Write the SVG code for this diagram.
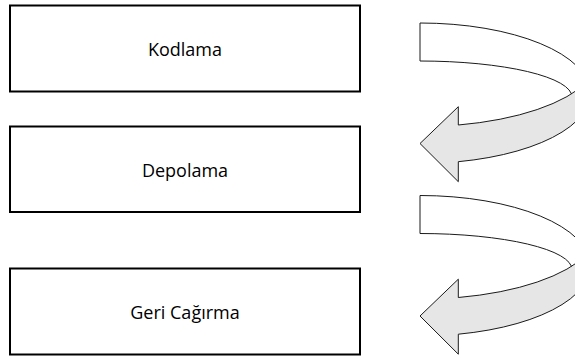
<svg xmlns="http://www.w3.org/2000/svg" width="575" height="358" viewBox="0 0 575 358">
<style>
.box{fill:#ffffff;stroke:#000000;stroke-width:2}
.lbl{font-family:"Open Sans","Liberation Sans",sans-serif;font-size:18px;fill:#000000;text-anchor:middle}
.back{fill:#ffffff;stroke:#1a1a1a;stroke-width:1}
.front{fill:#e6e6e6;stroke:#1a1a1a;stroke-width:1}
</style>
<rect x="0" y="0" width="575" height="358" fill="#ffffff"/>
<g id="node-kodlama">
<rect class="box" x="10" y="5.5" width="350" height="86"/>
<text class="lbl" x="185" y="56">Kodlama</text>
</g>
<g id="node-depolama">
<rect class="box" x="10" y="126.5" width="350" height="85.5"/>
<text class="lbl" x="185" y="176.5">Depolama</text>
</g>
<g id="node-geri-cagirma">
<rect class="box" x="10" y="268.5" width="350" height="86"/>
<text class="lbl" x="185" y="318.5">Geri Cağırma</text>
</g>
<g id="connectors">
<g id="arrow-1">
<path class="back" d="M420,23 A170,70 0 0 1 590,93 L572,97 A152,36 0 0 0 420,61 Z"/>
<path class="front" d="M458.3,125 A178.6,70 0 0 0 587.6,81.2 A170,70 0 0 1 458.3,161.7 L458.3,181.7 L420,143.5 L458.3,106.7 Z"/>
</g>
<g id="arrow-2" transform="translate(0,172.5)">
<path class="back" d="M420,23 A170,70 0 0 1 590,93 L572,97 A152,36 0 0 0 420,61 Z"/>
<path class="front" d="M458.3,125 A178.6,70 0 0 0 587.6,81.2 A170,70 0 0 1 458.3,161.7 L458.3,181.7 L420,143.5 L458.3,106.7 Z"/>
</g>
</g>
</svg>
